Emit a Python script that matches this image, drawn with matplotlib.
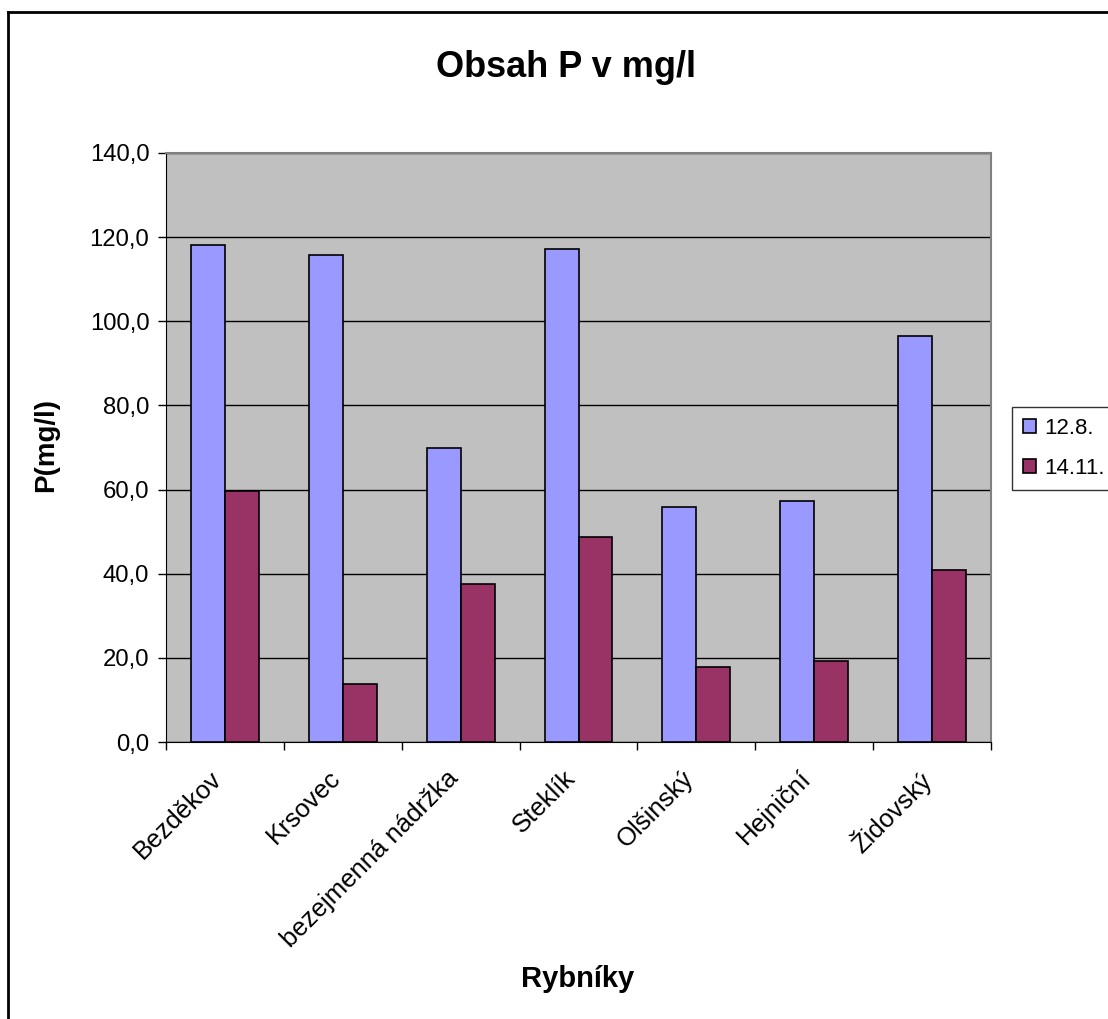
import numpy as np
import matplotlib.pyplot as plt
from matplotlib.lines import Line2D
from matplotlib.transforms import ScaledTranslation

plt.rcParams['font.family'] = ['Liberation Sans', 'DejaVu Sans']

rybniky = ['Bezděkov', 'Krsovec', 'bezejmenná nádržka', 'Steklík',
           'Olšinský', 'Hejniční', 'Židovský']
p_srpen = [118.1, 115.8, 69.9, 117.2, 55.9, 57.3, 96.6]
p_listopad = [59.6, 13.9, 37.6, 48.8, 17.9, 19.3, 40.8]
serie = ['12.8.', '14.11.']
yticks = [0, 20, 40, 60, 80, 100, 120, 140]

W, H = 1108, 1019
fig = plt.figure(figsize=(W / 100, H / 100), dpi=100)
ax = fig.add_axes([166 / W, 1 - 742 / H, (991 - 166) / W, (742 - 153) / H])
ax.set_facecolor('#C0C0C0')

x = np.arange(len(rybniky))
w = 0.288
ax.bar(x - w / 2, p_srpen, w, color='#9999FF', edgecolor='black', linewidth=1.2,
       label=serie[0], zorder=3)
ax.bar(x + w / 2, p_listopad, w, color='#993366', edgecolor='black', linewidth=1.2,
       label=serie[1], zorder=3)

ax.set_xlim(-0.5, len(rybniky) - 0.5)
ax.set_ylim(0, 140)
ax.set_yticks(yticks)
ax.set_yticklabels([f'{v:.1f}'.replace('.', ',') for v in yticks], fontsize=17.2)
ax.yaxis.grid(True, color='black', linewidth=1, zorder=1)
ax.set_axisbelow(True)

# category labels at centers, ticks at boundaries
ax.set_xticks(x)
ax.set_xticklabels(rybniky, rotation=45, ha='right', va='top',
                   rotation_mode='anchor', fontsize=18.5)
ax.tick_params(axis='x', length=0, pad=8)
shift = ScaledTranslation(-0.15, -0.13, fig.dpi_scale_trans)
for lbl in ax.get_xticklabels():
    lbl.set_transform(lbl.get_transform() + shift)
ax.set_xticks(np.arange(len(rybniky) + 1) - 0.5, minor=True)
ax.tick_params(axis='x', which='minor', length=6, width=1, direction='out')
ax.tick_params(axis='y', length=6, width=1, direction='out', pad=6)

for s in ['left', 'bottom']:
    ax.spines[s].set_color('black')
for s in ['top', 'right']:
    ax.spines[s].set_color('#808080')
    ax.spines[s].set_linewidth(1.5)

fig.text(566 / W, 1 - 77 / H, 'Obsah P v mg/l', ha='center', va='baseline',
         fontsize=26, fontweight='bold')
fig.text(46 / W, 1 - 445 / H, 'P(mg/l)', ha='center', va='center',
         rotation=90, fontsize=20, fontweight='bold')
fig.text(578 / W, 1 - 987 / H, 'Rybníky', ha='center', va='baseline',
         fontsize=21, fontweight='bold')

leg = fig.legend(loc='upper left', bbox_to_anchor=(1012 / W, 1 - 407 / H),
                 fontsize=16, frameon=True, fancybox=False, handlelength=0.6,
                 handleheight=0.6, handletextpad=0.36, borderpad=0.5,
                 labelspacing=0.85, borderaxespad=0)
leg.get_frame().set_edgecolor('black')
leg.get_frame().set_linewidth(1)

# outer chart border (cut at right and bottom edges)
fig.add_artist(Line2D([8 / W, 8 / W], [0, 1 - 12 / H], color='black', linewidth=2,
                      transform=fig.transFigure))
fig.add_artist(Line2D([8 / W, 1], [1 - 12 / H, 1 - 12 / H], color='black', linewidth=2,
                      transform=fig.transFigure))

fig.savefig('out.png', dpi=100)
